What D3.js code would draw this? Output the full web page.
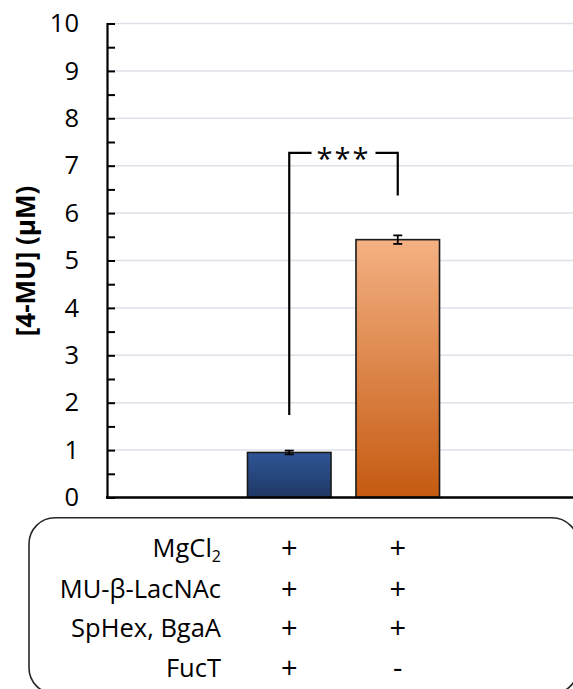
<!DOCTYPE html>
<html>
<head>
<meta charset="utf-8">
<script src="https://cdn.jsdelivr.net/npm/d3@7"></script>
<style>
  html, body { margin: 0; padding: 0; background: #fff; }
  svg { display: block; font-family: "Open Sans", "Noto Sans", sans-serif; }
</style>
</head>
<body>
<svg id="chart" width="573" height="689"></svg>
<script>
// Reaction samples and measured 4-MU release
const categories = ["with FucT", "without FucT"];
const values = [0.95, 5.44];
const errors = [0.04, 0.09];
const barColors = [["#2f5597", "#1f3864"], ["#f4b183", "#c55a11"]];

// Y axis
const yMax = 10;
const yTickValues = d3.range(0, 10.5, 0.5);
const yGridValues = d3.range(1, 11, 1);
const yTitle = "[4-MU] (\u00b5M)";

// Significance bracket: left foot, top, right foot
const bracketLevels = [1.74, 7.27, 6.37];
const bracketLabel = "***";

// Reaction components table
const rowLabels = ["MgCl", "MU-\u03b2-LacNAc", "SpHex, BgaA", "FucT"];
const rowSubscripts = ["2", "", "", ""];
const rowMarks = [["+", "+"], ["+", "+"], ["+", "+"], ["+", "-"]];

const svg = d3.select("#chart");
const axisX = 107, baseY = 497.5, topY = 23.5, rightX = 573;

const y = d3.scaleLinear().domain([0, yMax]).range([baseY, topY]);
const x = d3.scaleBand().domain(categories).range([235, 452])
  .paddingInner(0.23).paddingOuter(0.115);

// gradients
const defs = svg.append("defs");
categories.forEach((c, i) => {
  const g = defs.append("linearGradient").attr("id", "grad" + i)
    .attr("x1", 0).attr("y1", 0).attr("x2", 0).attr("y2", 1);
  g.append("stop").attr("offset", "0%").attr("stop-color", barColors[i][0]);
  g.append("stop").attr("offset", "100%").attr("stop-color", barColors[i][1]);
});

// gridlines
svg.append("g").selectAll("line").data(yGridValues).join("line")
  .attr("x1", axisX).attr("x2", rightX)
  .attr("y1", d => y(d)).attr("y2", d => y(d))
  .attr("stroke", "#dde1e8").attr("stroke-width", 1.5);

// bars
svg.append("g").selectAll("rect").data(values).join("rect")
  .attr("x", (d, i) => x(categories[i]))
  .attr("width", x.bandwidth())
  .attr("y", d => y(d))
  .attr("height", d => baseY - y(d))
  .attr("fill", (d, i) => `url(#grad${i})`)
  .attr("stroke", "#1a1a1a").attr("stroke-width", 1.6);

// error bars
const eb = svg.append("g").attr("stroke", "#000").attr("stroke-width", 1.8);
values.forEach((v, i) => {
  const cx = x(categories[i]) + x.bandwidth() / 2;
  eb.append("line").attr("x1", cx).attr("x2", cx)
    .attr("y1", y(v - errors[i])).attr("y2", y(v + errors[i]));
  [v - errors[i], v + errors[i]].forEach(e => {
    eb.append("line").attr("x1", cx - 4.5).attr("x2", cx + 4.5)
      .attr("y1", y(e)).attr("y2", y(e));
  });
});

// y axis with inward ticks
const yAxis = d3.axisLeft(y).tickValues(yTickValues).tickSize(-8).tickPadding(28)
  .tickFormat(d => Number.isInteger(d) ? d : "");
const ya = svg.append("g").attr("transform", `translate(${axisX},0)`).call(yAxis);
ya.select(".domain").attr("stroke", "#000").attr("stroke-width", 2.2);
ya.selectAll(".tick line").attr("stroke", "#000").attr("stroke-width", 2);
ya.selectAll(".tick text").attr("font-size", 25.5).attr("fill", "#000")
  .attr("font-family", "'Open Sans', sans-serif");

// x axis line
svg.append("line").attr("x1", axisX - 1).attr("x2", rightX)
  .attr("y1", baseY).attr("y2", baseY)
  .attr("stroke", "#000").attr("stroke-width", 2.5);

// y title
svg.append("text")
  .attr("transform", `translate(35,${261}) rotate(-90)`)
  .attr("text-anchor", "middle")
  .attr("font-weight", "bold").attr("font-size", 26).attr("fill", "#000")
  .text(yTitle);

// significance bracket
const bx0 = x(categories[0]) + x.bandwidth() / 2;
const bx1 = x(categories[1]) + x.bandwidth() / 2;
const bm = (bx0 + bx1) / 2;
const gap = 32;
const br = svg.append("g").attr("fill", "none").attr("stroke", "#000").attr("stroke-width", 2.2);
br.append("path").attr("d", d3.line()([[bx0, y(bracketLevels[0])], [bx0, y(bracketLevels[1])], [bm - gap, y(bracketLevels[1])]]));
br.append("path").attr("d", d3.line()([[bm + gap, y(bracketLevels[1])], [bx1, y(bracketLevels[1])], [bx1, y(bracketLevels[2])]]));
svg.append("text").attr("x", bm).attr("y", y(bracketLevels[1]) + 16)
  .attr("text-anchor", "middle").attr("font-size", 29).attr("letter-spacing", 2)
  .attr("fill", "#000").text(bracketLabel);

// components table
svg.append("rect").attr("x", 29).attr("y", 517.7).attr("width", 549).attr("height", 176)
  .attr("rx", 26).attr("fill", "none").attr("stroke", "#262626").attr("stroke-width", 1.6);

const rowY = [556.5, 597.5, 637, 677];
rowLabels.forEach((lab, r) => {
  const t = svg.append("text").attr("x", 221).attr("y", rowY[r])
    .attr("text-anchor", "end").attr("font-size", 25.5).attr("fill", "#000");
  t.append("tspan").text(lab);
  if (rowSubscripts[r]) {
    t.append("tspan").attr("font-size", 16).attr("dy", 5).text(rowSubscripts[r]);
  }
  rowMarks[r].forEach((m, i) => {
    svg.append("text").attr("x", x(categories[i]) + x.bandwidth() / 2).attr("y", rowY[r] + 1)
      .attr("text-anchor", "middle").attr("font-size", 29).attr("fill", "#000").text(m);
  });
});
</script>
</body>
</html>
